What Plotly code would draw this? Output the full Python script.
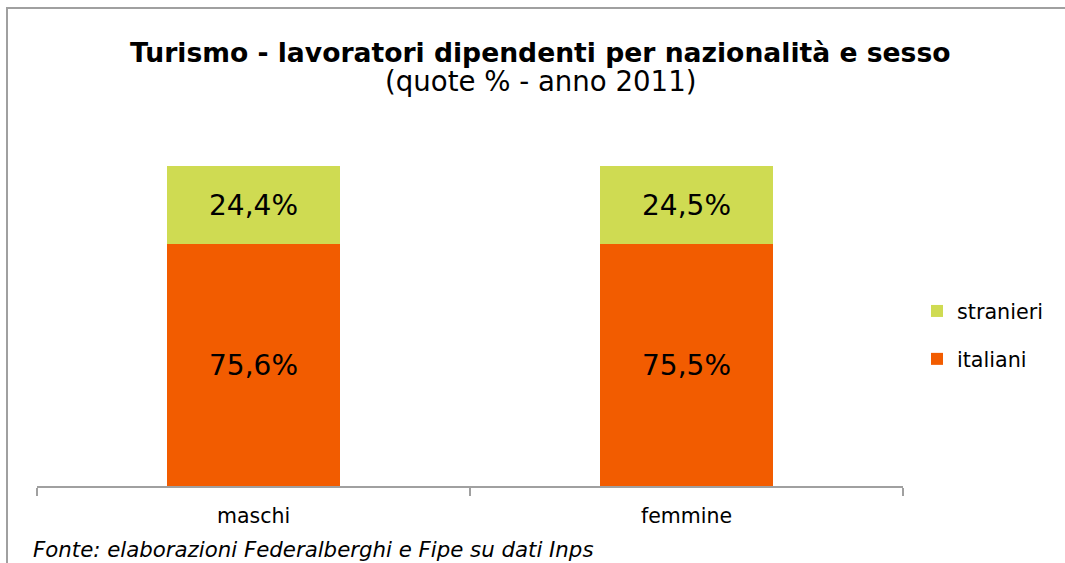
import plotly.graph_objects as go

categories = ["maschi", "femmine"]
italiani = [75.6, 75.5]
stranieri = [24.4, 24.5]

title = "Turismo - lavoratori dipendenti per nazionalità e sesso"
subtitle = "(quote % - anno 2011)"
source = "Fonte: elaborazioni Federalberghi e Fipe su dati Inps"

FONT = "Verdana, DejaVu Sans, sans-serif"
GREEN = "#CFDB52"
ORANGE = "#F25C00"
GRAY = "#A0A0A0"

W, H = 1065, 563
L, R, T, B = 37, 162, 166, 77
pw, ph = W - L - R, H - T - B

def px(x):
    return (x - L) / pw

def py(y):
    return (H - B - y) / ph

fig = go.Figure()
fig.add_trace(go.Bar(
    x=categories, y=italiani, name="italiani", marker_color=ORANGE,
    marker_line_width=0, width=0.4, legendgroup="a", legendrank=2,
    texttemplate="%{y:.1f}%", textposition="inside", insidetextanchor="middle",
    textfont=dict(family=FONT, size=28, color="black"), hoverinfo="skip"))
fig.add_trace(go.Bar(
    x=categories, y=stranieri, name="stranieri", marker_color=GREEN,
    marker_line_width=0, width=0.4, legendgroup="b", legendrank=1,
    texttemplate="%{y:.1f}%", textposition="inside", insidetextanchor="middle",
    textfont=dict(family=FONT, size=28, color="black"), hoverinfo="skip"))

fig.update_layout(
    width=W, height=H, barmode="stack", separators=",.",
    paper_bgcolor="white", plot_bgcolor="white",
    margin=dict(l=L, r=R, t=T, b=B),
    font=dict(family=FONT, size=20, color="black"),
    showlegend=True,
    legend=dict(x=px(917), y=py(335), xanchor="left", yanchor="middle",
                traceorder="grouped", tracegroupgap=18,
                font=dict(family=FONT, size=20.7, color="black"),
                itemwidth=30, bgcolor="rgba(0,0,0,0)"),
    uniformtext=dict(mode="show", minsize=28),
)
fig.update_xaxes(showline=True, linecolor=GRAY, linewidth=2, ticks="outside",
                 tickson="boundaries", ticklen=8, tickcolor=GRAY, tickwidth=2,
                 ticklabelstandoff=10,
                 tickfont=dict(family=FONT, size=20.5, color="black"),
                 showgrid=False, zeroline=False, range=[-0.5, 1.5])
fig.update_yaxes(range=[0, 100], visible=False, showgrid=False, zeroline=False)

fig.add_annotation(xref="paper", yref="paper", x=px(540), y=py(52),
                   text="<b>" + title + "</b>", showarrow=False,
                   xanchor="center", yanchor="middle",
                   font=dict(family=FONT, size=26.6, color="black"))
fig.add_annotation(xref="paper", yref="paper", x=px(540), y=py(81),
                   text=subtitle, showarrow=False,
                   xanchor="center", yanchor="middle",
                   font=dict(family=FONT, size=27.6, color="black"))
fig.add_annotation(xref="paper", yref="paper", x=px(31), y=py(549),
                   text="<i>" + source + "</i>", showarrow=False,
                   xanchor="left", yanchor="middle",
                   font=dict(family=FONT, size=21.3, color="black"))

# outer chart border (left and top visible)
fig.add_shape(type="line", xref="paper", yref="paper",
              x0=px(7), x1=px(7), y0=py(8), y1=py(H + 5),
              line=dict(color=GRAY, width=2))
fig.add_shape(type="line", xref="paper", yref="paper",
              x0=px(6), x1=px(W + 5), y0=py(8), y1=py(8),
              line=dict(color=GRAY, width=2))

fig.write_html("out.html", config={"displayModeBar": False},
               post_script="document.body.style.margin='0';document.body.style.overflow='hidden';")
